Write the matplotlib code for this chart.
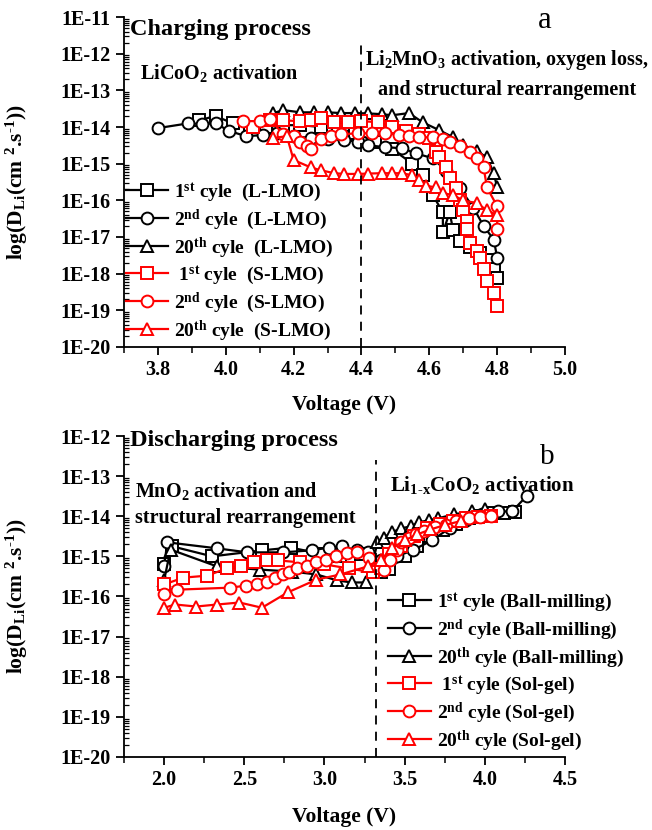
import numpy as np
import matplotlib
matplotlib.use("Agg")
import matplotlib.pyplot as plt
from matplotlib.ticker import LogLocator, FuncFormatter, MultipleLocator, NullFormatter

plt.rcParams['font.family'] = ['Liberation Serif', 'DejaVu Serif']
plt.rcParams['font.weight'] = 'bold'
plt.rcParams['mathtext.fontset'] = 'custom'
plt.rcParams['mathtext.rm'] = 'Liberation Serif:bold'
plt.rcParams['mathtext.it'] = 'Liberation Serif:bold:italic'
plt.rcParams['mathtext.bf'] = 'Liberation Serif:bold'
plt.rcParams['mathtext.default'] = 'rm'

# ---------------- Panel a: charging ----------------
a_L1_v = [3.92, 3.97, 4.02, 4.07, 4.12, 4.17, 4.22, 4.28, 4.33, 4.38, 4.44, 4.49, 4.55, 4.58, 4.61,
          4.64, 4.64, 4.66, 4.67, 4.69, 4.72, 4.75, 4.77, 4.79, 4.80]
a_L1_log = [-13.82, -13.70, -13.90, -14.00, -14.00, -13.95, -13.95, -14.00, -14.05, -14.15, -14.40,
            -14.60, -15.00, -15.30, -15.85, -16.33, -16.87, -16.33, -16.80, -17.10, -17.28, -17.45,
            -17.64, -17.86, -18.13]

a_L2_v = [3.80, 3.89, 3.93, 3.97, 4.01, 4.06, 4.11, 4.15, 4.20, 4.25, 4.30, 4.35, 4.39, 4.42, 4.47,
          4.52, 4.56, 4.61, 4.65, 4.69, 4.73, 4.76, 4.79, 4.80]
a_L2_log = [-14.03, -13.90, -13.92, -13.90, -14.11, -14.25, -14.22, -14.17, -14.25, -14.30, -14.33,
            -14.36, -14.40, -14.50, -14.55, -14.58, -14.72, -14.85, -15.20, -15.67, -16.20, -16.70,
            -17.07, -17.56]

a_L20_v = [4.14, 4.17, 4.22, 4.26, 4.30, 4.34, 4.38, 4.42, 4.46, 4.49, 4.54, 4.58, 4.63, 4.67, 4.70,
           4.74, 4.77, 4.79, 4.80]
a_L20_log = [-13.62, -13.54, -13.60, -13.60, -13.60, -13.62, -13.62, -13.63, -13.65, -13.68, -13.62,
             -13.87, -14.09, -14.28, -14.50, -14.66, -14.83, -15.26, -15.65]

a_S1_v = [4.08, 4.13, 4.17, 4.22, 4.25, 4.28, 4.32, 4.36, 4.40, 4.45, 4.49, 4.53, 4.57, 4.60, 4.62,
          4.63, 4.65, 4.66, 4.68, 4.69, 4.70, 4.71, 4.71, 4.72, 4.74, 4.75, 4.76, 4.77, 4.79, 4.80]
a_S1_log = [-14.00, -13.82, -13.82, -13.84, -13.82, -13.76, -13.87, -13.87, -13.84, -13.87, -14.00,
            -14.10, -14.20, -14.30, -14.69, -14.82, -15.10, -15.40, -15.67, -16.00, -16.27, -16.55,
            -16.77, -17.17, -17.37, -17.58, -17.86, -18.19, -18.54, -18.87]

a_S2_v = [4.05, 4.10, 4.13, 4.17, 4.20, 4.22, 4.24, 4.25, 4.28, 4.31, 4.34, 4.39, 4.43, 4.47, 4.51,
          4.54, 4.57, 4.61, 4.64, 4.66, 4.69, 4.72, 4.74, 4.76, 4.77, 4.80, 4.80]
a_S2_log = [-13.84, -13.84, -13.79, -14.20, -14.25, -14.42, -14.52, -14.60, -14.33, -14.25, -14.20,
            -14.17, -14.17, -14.17, -14.22, -14.25, -14.28, -14.28, -14.33, -14.42, -14.52, -14.69,
            -14.85, -15.10, -15.65, -16.16, -16.79]

a_S20_v = [4.14, 4.18, 4.20, 4.25, 4.28, 4.32, 4.35, 4.39, 4.42, 4.46, 4.49, 4.52, 4.55, 4.57, 4.59,
           4.62, 4.64, 4.67, 4.70, 4.74, 4.77, 4.80]
a_S20_log = [-14.30, -14.25, -14.90, -15.10, -15.18, -15.26, -15.28, -15.28, -15.27, -15.26, -15.26,
             -15.26, -15.32, -15.45, -15.60, -15.65, -15.80, -15.86, -16.00, -16.08, -16.27, -16.40]

a_labels = [r"1$^{st}$ cyle  (L-LMO)", r"2$^{nd}$ cyle  (L-LMO)", r"20$^{th}$ cyle  (L-LMO)",
            r" 1$^{st}$ cyle  (S-LMO)", r"2$^{nd}$ cyle  (S-LMO)", r"20$^{th}$ cyle  (S-LMO)"]

# ---------------- Panel b: discharging ----------------
b_B1_v = [2.00, 2.05, 2.30, 2.61, 2.79, 2.97, 3.10, 3.23, 3.30, 3.35, 3.40, 3.50, 3.58, 3.66, 3.74,
          3.82, 3.90, 3.97, 4.05, 4.12, 4.19]
b_B1_log = [-15.20, -14.75, -15.00, -14.85, -14.78, -14.93, -15.00, -14.95, -15.40, -15.40, -15.32,
            -15.00, -14.75, -14.50, -14.35, -14.20, -14.05, -14.00, -13.92, -13.92, -13.90]

b_B2_v = [2.00, 2.02, 2.33, 2.52, 2.74, 2.92, 3.03, 3.11, 3.20, 3.27, 3.35, 3.45, 3.55, 3.67, 3.78,
          3.88, 3.98, 4.08, 4.17, 4.26]
b_B2_log = [-15.25, -14.65, -14.80, -14.90, -14.90, -14.85, -14.78, -14.75, -14.85, -14.90, -15.10,
            -15.00, -14.85, -14.60, -14.30, -14.10, -13.95, -13.88, -13.88, -13.50]

b_B20_v = [2.00, 2.04, 2.33, 2.60, 2.80, 2.95, 3.08, 3.17, 3.26, 3.30, 3.33, 3.37, 3.42, 3.48, 3.54,
           3.59, 3.65, 3.71, 3.81, 3.92, 4.00]
b_B20_log = [-15.60, -14.83, -15.25, -15.33, -15.38, -15.45, -15.60, -15.65, -15.65, -15.20, -14.65,
             -14.53, -14.40, -14.30, -14.25, -14.15, -14.10, -14.05, -13.95, -13.88, -13.83]

b_S1_v = [2.00, 2.12, 2.27, 2.39, 2.48, 2.56, 2.64, 2.71, 2.85, 3.00, 3.15, 3.30, 3.35, 3.40, 3.48,
          3.56, 3.64, 3.72, 3.80, 3.88, 3.96, 4.04]
b_S1_log = [-15.70, -15.53, -15.48, -15.30, -15.23, -15.15, -15.10, -15.10, -15.15, -15.20, -15.30,
            -15.40, -15.30, -14.95, -14.75, -14.50, -14.30, -14.20, -14.12, -14.05, -14.02, -14.00]

b_S2_v = [2.00, 2.08, 2.41, 2.51, 2.58, 2.64, 2.69, 2.74, 2.78, 2.83, 2.89, 2.95, 3.01, 3.07, 3.14,
          3.20, 3.28, 3.37, 3.41, 3.45, 3.48, 3.53, 3.57, 3.62, 3.69, 3.76, 3.82, 3.90, 3.97, 4.04]
b_S2_log = [-15.95, -15.83, -15.78, -15.73, -15.68, -15.63, -15.53, -15.45, -15.38, -15.28, -15.23,
            -15.15, -15.08, -15.00, -14.92, -14.88, -15.05, -15.33, -15.08, -14.83, -14.65, -14.55,
            -14.45, -14.38, -14.28, -14.23, -14.13, -14.05, -14.03, -14.00]

b_S20_v = [2.00, 2.07, 2.20, 2.33, 2.47, 2.61, 2.77, 2.95, 3.10, 3.27, 3.35, 3.42, 3.50, 3.58, 3.66,
           3.75, 3.85]
b_S20_log = [-16.28, -16.20, -16.25, -16.20, -16.15, -16.28, -15.90, -15.58, -15.45, -15.25, -15.10,
             -14.80, -14.60, -14.45, -14.33, -14.22, -14.12]

b_labels = [r"1$^{st}$ cyle (Ball-milling)", r"2$^{nd}$ cyle (Ball-milling)",
            r"20$^{th}$ cyle (Ball-milling)", r" 1$^{st}$ cyle (Sol-gel)",
            r"2$^{nd}$ cyle (Sol-gel)", r"20$^{th}$ cyle (Sol-gel)"]

y_ticks_a = [1e-20, 1e-19, 1e-18, 1e-17, 1e-16, 1e-15, 1e-14, 1e-13, 1e-12, 1e-11]
y_ticks_b = [1e-20, 1e-19, 1e-18, 1e-17, 1e-16, 1e-15, 1e-14, 1e-13, 1e-12]

colors = ['black', 'black', 'black', 'red', 'red', 'red']
markers = ['s', 'o', '^', 's', 'o', '^']

fig = plt.figure(figsize=(6.52, 8.30), dpi=100)
W, H = 652, 830
def axes_px(left, top, right, bottom):
    return fig.add_axes([left / W, 1 - bottom / H, (right - left) / W, (bottom - top) / H])

ax1 = axes_px(124, 17, 565, 347)
ax2 = axes_px(124, 436, 565, 757)

def style(ax, yt):
    for s in ['top', 'right']:
        ax.spines[s].set_visible(False)
    for s in ['left', 'bottom']:
        ax.spines[s].set_linewidth(1.3)
    ax.set_yscale('log')
    ax.set_yticks(yt)
    ax.yaxis.set_major_formatter(FuncFormatter(lambda v, p: "1E%d" % int(round(np.log10(v)))))
    ax.yaxis.set_minor_locator(LogLocator(base=10, subs=np.arange(2, 10), numticks=50))
    ax.yaxis.set_minor_formatter(NullFormatter())
    ax.tick_params(axis='both', which='major', direction='out', length=6, width=1.3,
                   labelsize=14.5)
    ax.tick_params(axis='x', which='minor', direction='out', length=4, width=1.1)
    ax.tick_params(axis='y', which='minor', direction='in', length=3.5, width=0.9)
    for lab in ax.get_xticklabels() + ax.get_yticklabels():
        lab.set_fontweight('bold')

def plot_series(ax, vs, logs, labels):
    for v, lg, c, m, lab in zip(vs, logs, colors, markers, labels):
        ax.plot(v, 10.0 ** np.array(lg), color=c, marker=m, ms=8.5, mfc='white', mec=c,
                mew=1.4, lw=1.6, label=lab)

ylab = r"log(D$_{Li}$(cm $^{2}$.s$^{\text{-1}}$))"

# ---- panel a
plot_series(ax1, [a_L1_v, a_L2_v, a_L20_v, a_S1_v, a_S2_v, a_S20_v],
            [a_L1_log, a_L2_log, a_L20_log, a_S1_log, a_S2_log, a_S20_log], a_labels)
style(ax1, y_ticks_a)
ax1.set_xlim(3.7, 5.0)
ax1.set_ylim(1e-20, 1e-11)
ax1.xaxis.set_major_locator(MultipleLocator(0.2))
ax1.xaxis.set_minor_locator(MultipleLocator(0.1))
ax1.xaxis.set_major_formatter(FuncFormatter(lambda v, p: "%.1f" % v))
ax1.axvline(4.4, ymin=0, ymax=0.915, color='black', lw=1.3, ls=(0, (5, 4)))
ax1.set_xlabel("Voltage (V)", fontsize=15.5, fontweight='bold')
ax1.xaxis.set_label_coords(0.5, -0.145)
ax1.set_ylabel(ylab, fontsize=15.5, fontweight='bold')
ax1.yaxis.set_label_coords(-0.213, 0.5)
ax1.text(0.014, 0.962, "Charging process", transform=ax1.transAxes, fontsize=17.5,
         fontweight='bold', ha='left', va='center')
ax1.text(0.955, 0.99, "a", transform=ax1.transAxes, fontsize=22, fontweight='normal',
         ha='center', va='center')
ax1.text(0.036, 0.83, r"LiCoO$_{2}$ activation", transform=ax1.transAxes, fontsize=14.5,
         fontweight='bold', ha='left', va='center')
ax1.text(0.868, 0.87, r"Li$_{2}$MnO$_{3}$ activation, oxygen loss,", transform=ax1.transAxes,
         fontsize=14.5, fontweight='bold', ha='center', va='center', clip_on=False)
ax1.text(0.868, 0.78, "and structural rearrangement", transform=ax1.transAxes,
         fontsize=14.5, fontweight='bold', ha='center', va='center', clip_on=False)
leg1 = ax1.legend(loc='lower left', bbox_to_anchor=(-0.005, 0.0), frameon=False,
                  fontsize=14, handlelength=2.2, handletextpad=0.3, labelspacing=0.2,
                  borderaxespad=0.1, borderpad=0.1)
for t in leg1.get_texts():
    t.set_fontweight('bold')

# ---- panel b
plot_series(ax2, [b_B1_v, b_B2_v, b_B20_v, b_S1_v, b_S2_v, b_S20_v],
            [b_B1_log, b_B2_log, b_B20_log, b_S1_log, b_S2_log, b_S20_log], b_labels)
style(ax2, y_ticks_b)
ax2.set_xlim(1.75, 4.5)
ax2.set_ylim(1e-20, 1e-12)
ax2.xaxis.set_major_locator(MultipleLocator(0.5))
ax2.xaxis.set_minor_locator(MultipleLocator(0.25))
ax2.xaxis.set_major_formatter(FuncFormatter(lambda v, p: "%.1f" % v))
ax2.axvline(3.32, ymin=0, ymax=0.925, color='black', lw=1.3, ls=(0, (5, 4)))
ax2.set_xlabel("Voltage (V)", fontsize=15.5, fontweight='bold')
ax2.xaxis.set_label_coords(0.5, -0.156)
ax2.set_ylabel(ylab, fontsize=15.5, fontweight='bold')
ax2.yaxis.set_label_coords(-0.213, 0.5)
ax2.text(0.014, 0.985, "Discharging process", transform=ax2.transAxes, fontsize=17.5,
         fontweight='bold', ha='left', va='center')
ax2.text(0.96, 0.935, "b", transform=ax2.transAxes, fontsize=21, fontweight='normal',
         ha='center', va='center')
ax2.text(0.025, 0.83, r"MnO$_{2}$ activation and", transform=ax2.transAxes, fontsize=14.5,
         fontweight='bold', ha='left', va='center')
ax2.text(0.025, 0.745, "structural rearrangement", transform=ax2.transAxes, fontsize=14.5,
         fontweight='bold', ha='left', va='center')
ax2.text(0.603, 0.848, r"Li$_{\text{1-x}}$CoO$_{2}$ activation", transform=ax2.transAxes,
         fontsize=15, fontweight='bold', ha='left', va='center', clip_on=False)
leg2 = ax2.legend(loc='lower left', bbox_to_anchor=(0.59, 0.0), frameon=False,
                  fontsize=14, handlelength=2.2, handletextpad=0.3, labelspacing=0.2,
                  borderaxespad=0.1, borderpad=0.1)
for t in leg2.get_texts():
    t.set_fontweight('bold')

fig.savefig("out.png", dpi=100)
